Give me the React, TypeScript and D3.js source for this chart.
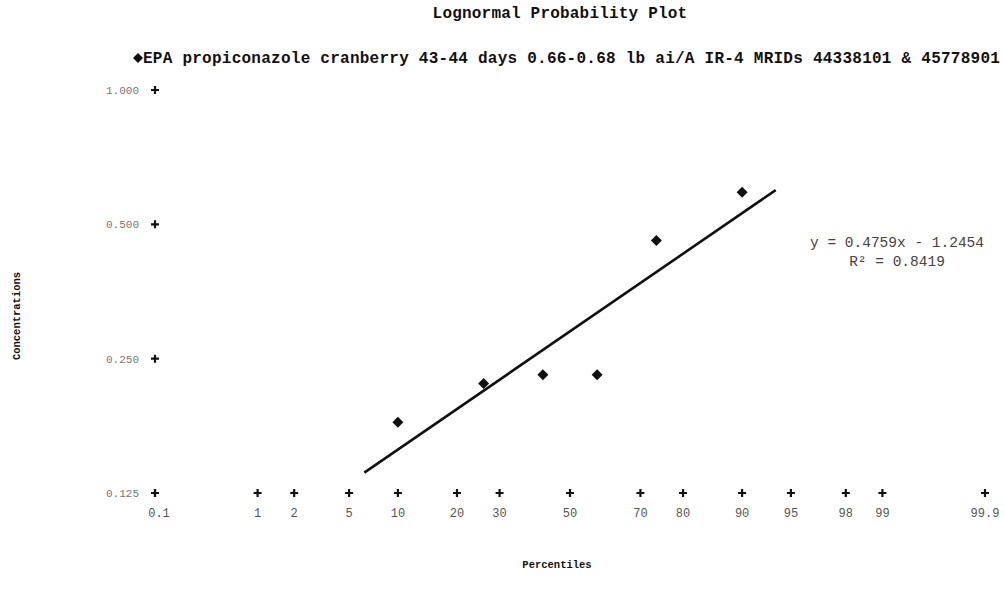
import React from "react";
import * as d3 from "d3";

const title = "Lognormal Probability Plot";
const seriesName = "EPA propiconazole cranberry 43-44 days 0.66-0.68 lb ai/A IR-4 MRIDs 44338101 & 45778901";
const percentiles = [10, 26, 42, 58, 74, 90];
const concentrations = [0.18, 0.22, 0.23, 0.23, 0.46, 0.59];
const xTickPercents = [0.1, 1, 2, 5, 10, 20, 30, 50, 70, 80, 90, 95, 98, 99, 99.9];
const xTickLabels = ["0.1", "1", "2", "5", "10", "20", "30", "50", "70", "80", "90", "95", "98", "99", "99.9"];
const yTicks = [0.125, 0.25, 0.5, 1];
const yTickLabels = ["0.125", "0.250", "0.500", "1.000"];
const slope = 0.4759;
const intercept = -1.2454;
const rSquared = "0.8419";
const trendExtension = 0.25;

// inverse standard normal CDF (Acklam)
function probit(p: number): number {
  const a = [-39.69683028665376, 220.9460984245205, -275.9285104469687, 138.357751867269, -30.66479806614716, 2.506628277459239];
  const b = [-54.47609879822406, 161.5858368580409, -155.6989798598866, 66.80131188771972, -13.28068155288572];
  const c = [-0.007784894002430293, -0.3223964580411365, -2.400758277161838, -2.549732539343734, 4.374664141464968, 2.938163982698783];
  const d = [0.007784695709041462, 0.3224671290700398, 2.445134137142996, 3.754408661907416];
  const pl = 0.02425;
  let q: number, r: number;
  if (p < pl) {
    q = Math.sqrt(-2 * Math.log(p));
    return (((((c[0] * q + c[1]) * q + c[2]) * q + c[3]) * q + c[4]) * q + c[5]) / ((((d[0] * q + d[1]) * q + d[2]) * q + d[3]) * q + 1);
  }
  if (p <= 1 - pl) {
    q = p - 0.5;
    r = q * q;
    return ((((((a[0] * r + a[1]) * r + a[2]) * r + a[3]) * r + a[4]) * r + a[5]) * q) / (((((b[0] * r + b[1]) * r + b[2]) * r + b[3]) * r + b[4]) * r + 1);
  }
  q = Math.sqrt(-2 * Math.log(1 - p));
  return -(((((c[0] * q + c[1]) * q + c[2]) * q + c[3]) * q + c[4]) * q + c[5]) / ((((d[0] * q + d[1]) * q + d[2]) * q + d[3]) * q + 1);
}

const W = 1005;
const H = 597;
const mono = "'Liberation Mono', 'DejaVu Sans Mono', monospace";

export default function App() {
  const zMax = -probit(0.001);
  const x = d3.scaleLinear().domain([-zMax, zMax]).range([155, 985]);
  const y = d3.scaleLog().base(2).domain([0.125, 1]).range([493, 90]);

  const zs = percentiles.map((p) => probit(p / 100));
  const zExt = d3.extent(zs) as [number, number];
  const trendZ = [zExt[0] - trendExtension, zExt[1] + trendExtension];
  const line = d3
    .line<number>()
    .x((z) => x(z))
    .y((z) => y(Math.exp(intercept + slope * z)));

  const cross = "M-4,0H4M0,-4V4";
  const diamond = "M0,-5.5L5.5,0L0,5.5L-5.5,0Z";

  return (
    <div style={{ position: "fixed", left: 0, top: 0, width: W, height: H, background: "#fff" }}>
      <svg width={W} height={H} style={{ display: "block" }}>
        <rect width={W} height={H} fill="#fff" />
        <text x={560} y={18} textAnchor="middle" fontFamily={mono} fontWeight="bold" fontSize={16} letterSpacing={0.2} fill="#111">
          {title}
        </text>
        <g transform="translate(0,63)">
          <path d="M0,-5L5,0L0,5L-5,0Z" transform="translate(138,-5)" fill="#111" />
          <text x={143} y={0} fontFamily={mono} fontWeight="bold" fontSize={16} letterSpacing={0.25} fill="#111">
            {seriesName}
          </text>
        </g>

        {/* y axis tick crosses and labels */}
        {yTicks.map((t, i) => (
          <g key={"y" + i} transform={`translate(155,${y(t)})`}>
            <path d={cross} stroke="#111" strokeWidth={2.2} />
            <text x={-16} y={4} textAnchor="end" fontFamily={mono} fontSize={11} fill="#777">
              {yTickLabels[i]}
            </text>
          </g>
        ))}

        {/* x axis tick crosses and labels */}
        {xTickPercents.map((p, i) => (
          <g key={"x" + i} transform={`translate(${x(probit(p / 100))},493)`}>
            <path d={cross} stroke="#111" strokeWidth={2.2} />
            <text x={i === 0 ? 4 : 0} y={24} textAnchor="middle" fontFamily={mono} fontSize={12} fill="#555">
              {xTickLabels[i]}
            </text>
          </g>
        ))}

        {/* trendline */}
        <path d={line(trendZ) || ""} fill="none" stroke="#111" strokeWidth={2.6} />

        {/* data points */}
        {zs.map((z, i) => (
          <path key={"p" + i} d={diamond} transform={`translate(${x(z)},${y(concentrations[i])})`} fill="#111" />
        ))}

        {/* equation */}
        <text x={897} y={247} textAnchor="middle" fontFamily={mono} fontSize={14.5} fill="#444">
          {`y = ${slope}x - ${Math.abs(intercept)}`}
        </text>
        <text x={897} y={266} textAnchor="middle" fontFamily={mono} fontSize={14.5} fill="#444">
          R² = {rSquared}
        </text>

        {/* axis titles */}
        <text x={557} y={568} textAnchor="middle" fontFamily={mono} fontWeight="bold" fontSize={10.5} fill="#111">
          Percentiles
        </text>
        <text transform="translate(20,316) rotate(-90)" textAnchor="middle" fontFamily={mono} fontWeight="bold" fontSize={10.5} fill="#111">
          Concentrations
        </text>
      </svg>
    </div>
  );
}
